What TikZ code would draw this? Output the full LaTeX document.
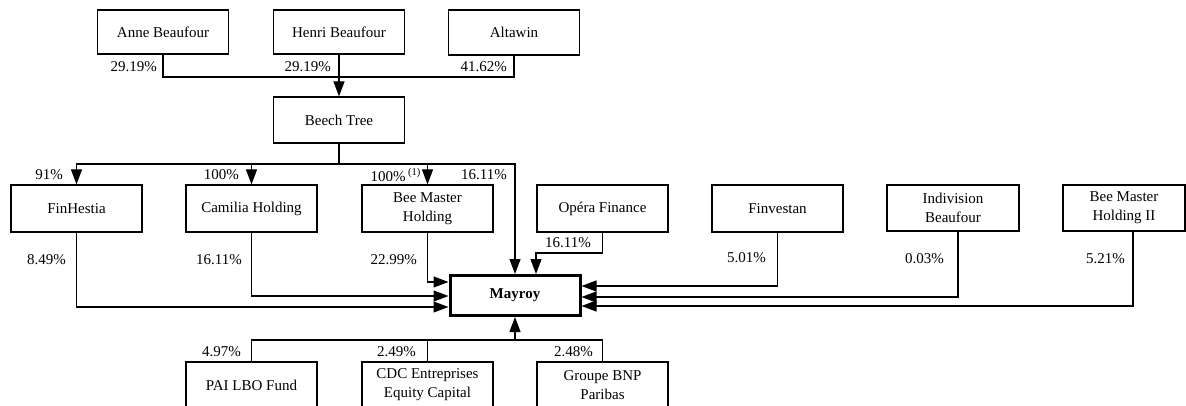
\documentclass[tikz,border=0pt]{standalone}
\usepackage{fontspec}
\setmainfont{Liberation Serif}
\usetikzlibrary{arrows.meta}
\begin{document}
\begin{tikzpicture}[x=1pt,y=-1pt,
  box/.style={draw, line width=1.3pt, minimum width=131pt, minimum height=46pt, inner sep=0pt, align=center, font=\fontsize{15}{19}\selectfont},
  pct/.style={anchor=east, inner sep=0pt, font=\fontsize{15}{18}\selectfont},
  conn/.style={line width=1.2pt},
  arr/.style={conn, -{Triangle[length=15pt,width=11pt]}}]
\useasboundingbox (0,0) rectangle (1186,406);
\clip (0,0) rectangle (1186,406);
\fill[white] (0,0) rectangle (1186,406);
% top row
\node[box, minimum height=44pt] (anne) at (163,32) {Anne Beaufour};
\node[box, minimum height=44pt] (henri) at (339,32) {Henri Beaufour};
\node[box, minimum height=45pt] (altawin) at (514,32.5) {Altawin};
\node[box] (beech) at (339,120) {Beech Tree};
% second row
\node[box, minimum height=47pt] (finhestia) at (76.5,208.5) {FinHestia};
\node[box, minimum height=47pt] (camilia) at (251.5,208.5) {Camilia Holding};
\node[box, minimum height=47pt] (beemaster) at (427.5,208.5) {Bee Master\\Holding};
\node[box, minimum height=47pt] (opera) at (602.5,208.5) {Opéra Finance};
\node[box, minimum height=47pt] (finvestan) at (777.5,208.5) {Finvestan};
\node[box, minimum width=132pt] (indivision) at (953,208) {Indivision\\Beaufour};
\node[box, minimum width=122pt] (bmh) at (1124,208) {Bee Master\\Holding II};
% Mayroy
\node[box, line width=3pt, minimum width=130pt, minimum height=40pt, font=\fontsize{15}{19}\selectfont\bfseries] (mayroy) at (515,295.5) {Mayroy};
% bottom row
\node[box] (pai) at (251.5,385) {PAI LBO Fund};
\node[box] (cdc) at (427.5,385) {CDC Entreprises\\Equity Capital};
\node[box] (bnp) at (602.5,385) {Groupe BNP\\Paribas};
% connectors top
\coordinate (j1) at (339,77);
\draw[conn] (anne.south) |- (j1) -| (altawin.south);
\draw[arr] (henri.south) -- (beech.north);
\coordinate (j2) at (339,164);
\draw[conn] (beech.south) -- (j2);
\draw[arr] (j2) -| (finhestia.north);
\draw[arr] (j2) -| (camilia.north);
\draw[arr] (j2) -| (beemaster.north);
\draw[arr] (j2) -| (mayroy.north);
% into Mayroy left
\draw[arr] (beemaster.south) |- ([yshift=13.5pt]mayroy.west);
\draw[arr] (camilia.south) |- ([yshift=-0.5pt]mayroy.west);
\draw[arr] (finhestia.south) |- ([yshift=-11.5pt]mayroy.west);
% into Mayroy right
\draw[arr] (finvestan.south) |- ([yshift=9.5pt]mayroy.east);
\draw[arr] ([xshift=5pt]indivision.south) |- ([yshift=-1.5pt]mayroy.east);
\draw[arr] ([xshift=9pt]bmh.south) |- ([yshift=-10.5pt]mayroy.east);
% Opera
\coordinate (oj) at (536,253);
\draw[arr] (opera.south) |- (oj) -- (oj |- mayroy.north);
% bottom
\coordinate (bj) at (515,340);
\draw[conn] (pai.north) |- (bj) -| (bnp.north);
\draw[conn] (cdc.north) -- (cdc.north |- bj);
\draw[arr] (bj) -- (mayroy.south);
% labels
\node[pct] (l1) at (157,67) {29.19\%};
\node[pct] (l2) at (331,67) {29.19\%};
\node[pct] (l3) at (507,67) {41.62\%};
\node[pct] (l4) at (63,175) {91\%};
\node[pct] (l5) at (239,175) {100\%};
\node[pct] (l6) at (421,175) {100\%\,\textsuperscript{(1)}};
\node[pct] (l7) at (507,175) {16.11\%};
\node[pct] (l8) at (66,260) {8.49\%};
\node[pct] (l9) at (242,260) {16.11\%};
\node[pct] (l10) at (417,260) {22.99\%};
\node[pct] (l11) at (591,243) {16.11\%};
\node[pct] (l12) at (766,258) {5.01\%};
\node[pct] (l13) at (944,259) {0.03\%};
\node[pct] (l14) at (1125,259) {5.21\%};
\node[pct] (l15) at (241,352) {4.97\%};
\node[pct] (l16) at (416,352) {2.49\%};
\node[pct] (l17) at (593,352) {2.48\%};
\end{tikzpicture}
\end{document}
